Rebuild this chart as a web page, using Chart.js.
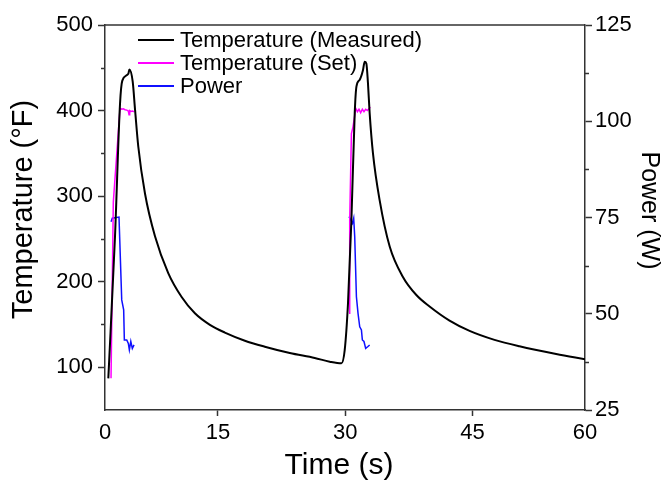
<!DOCTYPE html>
<html>
<head>
<meta charset="utf-8">
<script src="https://cdn.jsdelivr.net/npm/chart.js@4"></script>
<style>
  html, body { margin: 0; padding: 0; background: #fff; }
  canvas { display: block; }
</style>
</head>
<body>
<canvas id="heatChart" width="662" height="483"></canvas>
<script>
// values: time (s), temperature (°F), power (W)
const measuredTime = [2.09, 2.88, 3.47, 3.74, 4.45, 4.57, 4.96, 5.24, 5.62, 6.41, 7.59, 9.15, 10.73, 12.29, 14.06, 15.82, 18.18, 20.53, 23.47, 26.41, 28.18, 29.55,
                      29.94, 30.33, 30.73, 31.12, 31.32, 31.71, 32.09, 32.29, 32.49, 32.68, 32.88, 33.27, 34.06, 35.24, 36.80, 38.38, 39.94, 42.29, 44.65, 47.59, 50.53, 54.85, 58.25];
const measuredTemp = [87, 253, 408, 435, 443, 448, 434, 401, 358, 303, 253, 210, 182, 163, 149.5, 140.5, 131, 124, 116.6, 110.8, 106.5, 104.6,
                      120, 175, 272, 397, 428, 436, 447, 457, 455, 432, 397, 350, 295, 241, 205.5, 184.4, 171, 154.5, 142.5, 132, 124.5, 115.5, 109.3];

// set point, null splits the two heating cycles
const setTime = [2.41, 2.68, 3.47, 3.67, 3.86, 4.06, 4.26, 4.45, 4.53, 4.61, 4.76, 4.96, 5.12,
                 17,
                 30.45, 30.53, 30.73, 30.92, 31.24, 31.44, 31.62, 31.82, 32.02, 32.21, 32.41, 32.61, 32.96];
const setTemp = [87, 293, 402.6, 401.5, 402, 401, 400.5, 399.5, 395, 400, 399, 399.5, 398.5,
                 null,
                 163, 272, 373, 381, 402.6, 398.7, 401.5, 397.5, 401.5, 398.7, 401.5, 400, 404];

const powerTime = [2.41, 2.56, 3.35, 3.67, 3.9, 3.98, 4.26, 4.45, 4.57, 4.74, 4.92, 5.12,
                   17,
                   30.45, 30.65, 30.85, 31.0, 31.12, 31.32, 31.51, 31.71, 31.91, 32.02, 32.21, 32.41, 32.68, 32.88];
const powerWatts = [73.9, 74.8, 75.1, 53.6, 51, 43.2, 43.2, 42.3, 40.6, 42.8, 41, 41.9,
                    null,
                    75.2, 74.4, 73.5, 74.8, 70, 54.4, 50.1, 46.6, 45.8, 43.2, 42.8, 41, 41.5, 41.9];

// the time axis labels its two ends as 0 and 60
const xTickValues = [1.7, 15, 30, 45, 58.25];
const xTickLabels = ['0', '15', '30', '45', '60'];
const tempTicks = [100, 200, 300, 400, 500];
const powerTicks = [25, 50, 75, 100, 125];

const FONT = '"Liberation Sans", Arial, sans-serif';
const AXIS = '#333';

function toPoints(xs, ys) {
    return xs.map((x, i) => ({x: x, y: ys[i]}));
}

// short ticks half way between the labelled ones
const minorTicks = {
    id: 'minorTicks',
    afterDraw(chart) {
        const ctx = chart.ctx;
        ctx.save();
        ctx.strokeStyle = AXIS;
        ctx.lineWidth = 1.5;
        ['y', 'y1'].forEach(id => {
            const scale = chart.scales[id];
            const vals = scale.ticks.map(t => t.value);
            const x0 = id === 'y' ? scale.right : scale.left;
            const dir = id === 'y' ? -1 : 1;
            for (let i = 0; i < vals.length - 1; i++) {
                const py = Math.round(scale.getPixelForValue((vals[i] + vals[i + 1]) / 2)) + 0.5;
                ctx.beginPath();
                ctx.moveTo(x0, py);
                ctx.lineTo(x0 + dir * 4, py);
                ctx.stroke();
            }
        });
        // top edge of the frame
        const area = chart.chartArea;
        ctx.beginPath();
        ctx.moveTo(area.left, area.top);
        ctx.lineTo(area.right, area.top);
        ctx.stroke();
        ctx.restore();
    }
};

// axis titles, placed like the original (a bit above the middle)
const axisTitles = {
    id: 'axisTitles',
    afterDraw(chart) {
        const ctx = chart.ctx;
        const area = chart.chartArea;
        const midY = (area.top + area.bottom) / 2 - 8;
        ctx.save();
        ctx.fillStyle = '#000';
        ctx.textAlign = 'center';
        ctx.textBaseline = 'middle';

        ctx.font = '30px ' + FONT;
        ctx.fillText('Time (s)', (area.left + area.right) / 2 - 6, 466);

        ctx.save();
        ctx.translate(24, midY);
        ctx.rotate(-Math.PI / 2);
        ctx.font = '29px ' + FONT;
        ctx.fillText('Temperature (°F)', 0, 0);
        ctx.restore();

        ctx.save();
        ctx.translate(649, midY + 1);
        ctx.rotate(Math.PI / 2);
        ctx.font = '25px ' + FONT;
        ctx.fillText('Power (W)', 0, 0);
        ctx.restore();

        ctx.restore();
    }
};

// legend sits inside the plot, top left
const insideLegend = {
    id: 'insideLegend',
    afterDatasetsDraw(chart) {
        const ctx = chart.ctx;
        const area = chart.chartArea;
        ctx.save();
        ctx.font = '22px ' + FONT;
        ctx.textBaseline = 'middle';
        chart.data.datasets.forEach((ds, i) => {
            const y = area.top + 15 + i * 23;
            const x = area.left + 33;
            ctx.strokeStyle = ds.borderColor;
            ctx.lineWidth = 2;
            ctx.beginPath();
            ctx.moveTo(x, y);
            ctx.lineTo(x + 36, y);
            ctx.stroke();
            ctx.fillStyle = '#000';
            ctx.fillText(ds.label, x + 42, y + 1);
        });
        ctx.restore();
    }
};

const ctx = document.getElementById('heatChart').getContext('2d');

new Chart(ctx, {
    type: 'line',
    data: {
        datasets: [{
            label: 'Temperature (Measured)',
            data: toPoints(measuredTime, measuredTemp),
            borderColor: '#000000',
            borderWidth: 2,
            cubicInterpolationMode: 'monotone',
            yAxisID: 'y'
        }, {
            label: 'Temperature (Set)',
            data: toPoints(setTime, setTemp),
            borderColor: '#FF00FF',
            borderWidth: 1.5,
            yAxisID: 'y'
        }, {
            label: 'Power',
            data: toPoints(powerTime, powerWatts),
            borderColor: '#1010FF',
            borderWidth: 1.5,
            yAxisID: 'y1'
        }]
    },
    options: {
        responsive: false,
        animation: false,
        spanGaps: false,
        elements: { point: { radius: 0 } },
        layout: { padding: { top: 25, left: 0, right: 0, bottom: 0 } },
        plugins: {
            legend: { display: false },
            tooltip: { enabled: false }
        },
        scales: {
            x: {
                type: 'linear',
                min: xTickValues[0],
                max: xTickValues[xTickValues.length - 1],
                afterBuildTicks: scale => { scale.ticks = xTickValues.map(v => ({value: v})); },
                afterFit: scale => { scale.height = 73; },
                ticks: {
                    autoSkip: false,
                    maxRotation: 0,
                    padding: 4,
                    color: '#000',
                    font: { family: FONT, size: 22 },
                    callback: (value, index) => xTickLabels[index]
                },
                grid: {
                    display: true,
                    drawOnChartArea: false,
                    tickLength: 6,
                    tickWidth: 1.5,
                    tickColor: c => (c.index === 0 || c.index === xTickValues.length - 1) ? 'rgba(0,0,0,0)' : AXIS
                },
                border: { display: true, color: AXIS, width: 1.5 }
            },
            y: {
                position: 'left',
                min: 50,
                max: 500,
                afterBuildTicks: scale => { scale.ticks = tempTicks.map(v => ({value: v})); },
                afterFit: scale => { scale.width = 105; },
                ticks: {
                    padding: 5,
                    color: '#000',
                    font: { family: FONT, size: 22 }
                },
                grid: { display: true, drawOnChartArea: false, tickLength: 7, tickWidth: 1.5, tickColor: AXIS },
                border: { display: true, color: AXIS, width: 1.5 }
            },
            y1: {
                position: 'right',
                min: 25,
                max: 125,
                afterBuildTicks: scale => { scale.ticks = powerTicks.map(v => ({value: v})); },
                afterFit: scale => { scale.width = 77; },
                ticks: {
                    padding: 3,
                    color: '#000',
                    font: { family: FONT, size: 22 }
                },
                grid: { display: true, drawOnChartArea: false, tickLength: 7, tickWidth: 1.5, tickColor: AXIS },
                border: { display: true, color: AXIS, width: 1.5 }
            }
        }
    },
    plugins: [minorTicks, axisTitles, insideLegend]
});
</script>
</body>
</html>
